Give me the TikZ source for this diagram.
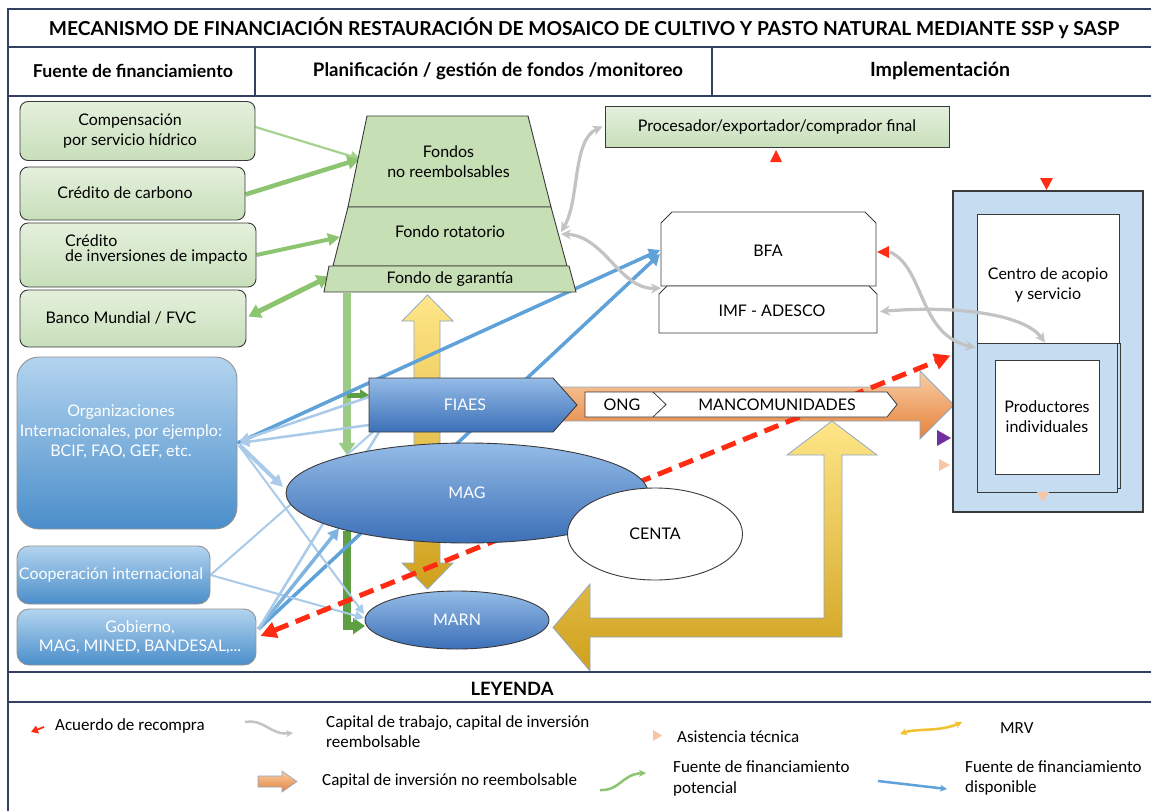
\documentclass[tikz,border=0pt]{standalone}
\usepackage{graphicx}
\usepackage{fontspec}
\setmainfont{Lato}
\newfontfamily\legfont{Carlito}
\usetikzlibrary{shapes.geometric,arrows.meta,calc}
\definecolor{frameC}{HTML}{34405F}
\definecolor{boxD}{HTML}{3A3A3A}
\definecolor{gTop}{HTML}{E4F0DC}
\definecolor{gBot}{HTML}{C8DFBA}
\definecolor{trapC}{HTML}{C6DFB5}
\definecolor{bTop}{HTML}{B3D4EF}
\definecolor{bBot}{HTML}{4A8ECA}
\definecolor{fTop}{HTML}{95BCE7}
\definecolor{fBot}{HTML}{3B6FB7}
\definecolor{oTop}{HTML}{F8CDA5}
\definecolor{oBot}{HTML}{E5823A}
\definecolor{yTop}{HTML}{FFE688}
\definecolor{yBot}{HTML}{CFA01C}
\definecolor{rBox}{HTML}{C6DCF0}
\definecolor{redC}{HTML}{FF2B12}
\definecolor{grayC}{HTML}{C3C3C3}
\definecolor{gLight}{HTML}{A6D28F}
\definecolor{gMid}{HTML}{8CC46F}
\definecolor{gDark}{HTML}{5F9F43}
\definecolor{bLight}{HTML}{A9CBE9}
\definecolor{bMid}{HTML}{5FA1D9}
\definecolor{purpC}{HTML}{7030A0}
\definecolor{peachC}{HTML}{F8C6A4}
\definecolor{edgeC}{HTML}{8FA8C6}
\definecolor{mrvC}{HTML}{F2C12E}
\newcommand\fitw[2]{\resizebox{#1}{!}{#2}}
\pgfdeclarelayer{back}
\pgfdeclarelayer{lines}
\pgfdeclarelayer{front}
\pgfsetlayers{back,lines,main,front}
\begin{document}
\begin{tikzpicture}[x=1pt,y=-1pt,
  frm/.style={draw=frameC, line width=1.6pt},
  hdr/.style={font=\bfseries\fontsize{16}{18}\selectfont, inner sep=0pt},
  txt/.style={font=\fontsize{16}{20}\selectfont, align=center, inner sep=0pt},
  wtxt/.style={txt, text=white},
  leg/.style={font=\legfont\fontsize{17}{20}\selectfont, align=left, inner sep=0pt, anchor=west},
  gbox/.style={draw=boxD, line width=0.9pt, rounded corners=8pt, top color=gTop, bottom color=gBot, inner sep=0pt},
  bbox/.style={draw=boxD!55, line width=0.9pt, rounded corners=12pt, top color=bTop, bottom color=bBot, inner sep=0pt},
  plain/.style={draw=boxD, line width=0.9pt},
  shell/.style={inner sep=0pt, outer sep=0pt},
  gry/.style={grayC, line width=3.2pt, {Stealth[length=10pt,width=10pt]}-{Stealth[length=10pt,width=10pt]}},
  ybox/.style={draw=edgeC, line width=0.8pt, top color=yTop, bottom color=yBot},
]
\begin{pgfonlayer}{back}
\fill[white] (0,0) rectangle (1151,811);
\end{pgfonlayer}
\useasboundingbox (0,0) rectangle (1151,811);

% ---------- frame ----------
\draw[frm] (8,811) -- (8,9) -- (1151,9);
\draw[frm] (8,47) -- (1151,47);
\draw[frm] (8,96) -- (1151,96);
\draw[frm] (255,47) -- (255,96);
\draw[frm] (712,47) -- (712,96);
\draw[frm] (8,672) -- (1151,672);
\draw[frm] (8,702) -- (1151,702);
\node[hdr] (title) at (584,28) {\fitw{1070pt}{MECANISMO DE FINANCIACIÓN RESTAURACIÓN DE MOSAICO DE CULTIVO Y PASTO NATURAL MEDIANTE SSP y SASP}};
\node[hdr] (colA) at (133,71) {\fitw{200pt}{Fuente de financiamiento}};
\node[hdr] (colB) at (498,71) {\fitw{370pt}{Planificación / gestión de fondos /monitoreo}};
\node[hdr] (colC) at (940,71) {\fitw{140pt}{Implementación}};
\node[hdr] (leyenda) at (512,689) {\fitw{83pt}{LEYENDA}};

% ---------- sources ----------
\node[gbox, minimum width=235pt, minimum height=59pt] (comp) at (137.5,131) {};
\node[txt] (compT) at (130,131) {Compensación\\por servicio hídrico};
\node[gbox, minimum width=225pt, minimum height=53pt] (carb) at (132.5,193.5) {};
\node[txt] (carbT) at (125,193) {Crédito de carbono};
\node[gbox, minimum width=236pt, minimum height=64pt] (inv) at (138,255) {};
\node[txt, align=left, anchor=west, font=\fontsize{16}{15}\selectfont] (invT) at (65,249) {Crédito\\de inversiones de impacto};
\node[gbox, minimum width=226pt, minimum height=57pt] (banco) at (133,318.5) {};
\node[txt] (bancoT) at (121,318) {Banco Mundial / FVC};

\node[bbox, minimum width=220pt, minimum height=172pt, rounded corners=22pt] (org) at (127,443) {};
\node[wtxt] (orgT) at (121,432) {Organizaciones\\Internacionales, por ejemplo:\\BCIF, FAO, GEF, etc.};
\node[bbox, minimum width=193pt, minimum height=58pt] (coop) at (113.5,575) {};
\node[wtxt] (coopT) at (111,575) {Cooperación internacional};
\node[bbox, minimum width=239pt, minimum height=56pt] (gob) at (136.5,637) {};
\node[wtxt, font=\fontsize{16}{19}\selectfont] (gobT) at (140,637) {Gobierno,\\MAG, MINED, BANDESAL,...};

% ---------- funds trapezoid ----------
\draw[plain, fill=trapC] (367,116) -- (528,116) -- (551,207) -- (348,207) -- cycle;
\draw[plain, fill=trapC] (348,207) -- (551,207) -- (567,266) -- (333,266) -- cycle;
\draw[plain, fill=trapC] (329,266) -- (569,266) -- (576,292) -- (324,292) -- cycle;
\node[shell, txt, minimum width=182pt, minimum height=91pt] (fondos) at (448.5,162) {Fondos\\no reembolsables};
\node[shell, txt, minimum width=218pt, minimum height=50pt] (rot) at (450,232) {Fondo rotatorio};
\node[shell, txt, minimum width=246pt, minimum height=26pt] (gar) at (450,279.5) {Fondo de garantía};

% ---------- processor, BFA, IMF ----------
\node[draw=boxD, line width=0.9pt, top color=gTop, bottom color=gBot, minimum width=344pt, minimum height=41pt, txt] (proc) at (777,126.5) {Procesador/exportador/comprador final};
\node[shell, minimum width=215pt, minimum height=74pt] (bfa) at (768.5,249) {};
\draw[plain, fill=white] (bfa.south west) -- ($(bfa.north west)+(0,11)$) -- ($(bfa.north west)+(11,0)$) -- ($(bfa.north east)+(-11,0)$) -- ($(bfa.north east)+(0,11)$) -- (bfa.south east) -- cycle;
\node[txt] (bfaT) at (768,251) {BFA};
\node[shell, minimum width=218pt, minimum height=47pt] (imf) at (768,309.5) {};
\draw[plain, fill=white] (imf.south west) -- ($(imf.north west)+(0,8)$) -- ($(imf.north west)+(8,0)$) -- ($(imf.north east)+(-8,0)$) -- ($(imf.north east)+(0,8)$) -- (imf.south east) -- cycle;
\node[txt] (imfT) at (772,311) {IMF - ADESCO};

% ---------- implementation block ----------
\node[draw=boxD, line width=1.1pt, fill=rBox, minimum width=190pt, minimum height=321pt, inner sep=0pt] (outer) at (1048,351.5) {};
\node[plain, fill=white, minimum width=142pt, minimum height=130pt, inner sep=0pt] (centro) at (1048,279) {};
\node[txt] (centroT) at (1048,285) {Centro de acopio\\y servicio};
\node[plain, fill=rBox, minimum width=140pt, minimum height=145pt, inner sep=0pt] (prodb) at (1050,415.5) {};
\node[plain, fill=rBox, minimum width=140pt, minimum height=149pt, inner sep=0pt] (prodf) at (1047,417.5) {};
\node[plain, fill=white, txt, minimum width=104pt, minimum height=114pt] (prod) at (1047,417) {Productores\\individuales};

% ---------- FIAES, chevrons, ellipses ----------
\draw[plain, top color=fTop, bottom color=fBot] (369,378) -- (553,378) -- (577,405) -- (553,432) -- (369,432) -- cycle;
\node[shell, wtxt, minimum width=192pt, minimum height=54pt] (fiaes) at (465,405) {FIAES};
\draw[plain, fill=white, line width=0.8pt] (585,392) -- (887,392) -- (897,404.5) -- (887,417) -- (585,417) -- cycle;
\draw[plain, line width=0.8pt] (653,392) -- (666,404.5) -- (653,417);
\node[txt] (ong) at (622,404.5) {ONG};
\node[txt] (manc) at (777,404.5) {MANCOMUNIDADES};
\node[ellipse, plain, top color=fTop, bottom color=fBot, minimum width=362pt, minimum height=100pt, outer sep=0pt, wtxt] (mag) at (467,493) {MAG};
\node[ellipse, plain, fill=white, minimum width=175pt, minimum height=92pt, outer sep=0pt, txt] (centa) at (655,534) {CENTA};
\node[ellipse, plain, top color=fTop, bottom color=fBot, minimum width=184pt, minimum height=58pt, outer sep=0pt, wtxt] (marn) at (457,620) {MARN};

% ---------- block arrows (behind) ----------
\begin{pgfonlayer}{back}
\draw[ybox] (427.5,295) -- (453,321) -- (440,321) -- (440,563) -- (453,563) -- (427.5,589) -- (402,563) -- (414,563) -- (414,321) -- (402,321) -- cycle;
\draw[ybox] (832,421) -- (877,455) -- (842,455) -- (842,637) -- (590,637) -- (590,671) -- (553,627.5) -- (590,584) -- (590,618) -- (824,618) -- (824,455) -- (787,455) -- cycle;
\draw[draw=edgeC, line width=0.8pt, top color=oTop, bottom color=oBot] (560,387) -- (920,387) -- (920,371) -- (954,405) -- (920,439) -- (920,421) -- (560,421) -- cycle;
\end{pgfonlayer}

% ---------- connectors ----------
\begin{pgfonlayer}{lines}
\coordinate (gx) at (347,0);
\coordinate (fiaesB) at ($(fiaes.west)+(0,-10)$);
% potential sources (green)
\draw[gLight, line width=2.2pt, -{Triangle[length=10pt,width=10pt]}] ($(comp.east)+(0,-4)$) -- ($(fondos.west)+(3,-3)$);
\draw[gMid, line width=4.5pt, -{Triangle[length=12pt,width=13pt]}] ($(carb.east)+(0,1)$) -- ($(fondos.west)+(2,-3)$);
\draw[gMid, line width=4pt, -{Triangle[length=12pt,width=12pt]}] (inv.east) -- ($(rot.west)+(-1,5)$);
\draw[gMid, line width=5pt, {Triangle[length=12pt,width=14pt]}-{Triangle[length=12pt,width=14pt]}] ($(banco.east)+(2,-2)$) -- ($(gar.west)+(2,-3)$);
\draw[gLight!85!gDark, line width=8pt, -{Triangle[length=12pt,width=16pt]}] (gx |- gar.south) -- (gx |- mag.162);
\draw[gDark, line width=5pt, -{Triangle[length=9pt,width=11pt]}] (gx |- fiaesB) -- (fiaesB);
\draw[gDark, line width=8pt, -{Triangle[length=12pt,width=16pt]}] (gx |- mag.198) -- ($(gx |- marn.west)+(0,6)$) -- ($(marn.west)+(0,6)$);
% available sources (blue)
\draw[bMid, line width=3.5pt, -{Triangle[length=11pt,width=12pt]}] (org.east) -- ($(bfa.west)+(-1,1)$);
\draw[bMid, line width=3.5pt, -{Triangle[length=11pt,width=12pt]}] ($(gob.east)+(2,-8)$) -- ($(bfa.west)+(-1,5)$);
\draw[bLight, line width=2.5pt, -{Triangle[length=10pt,width=10pt]}] ($(fiaes.west)+(0,-8)$) -- ($(org.east)+(2,-2)$);
\draw[bLight, line width=2.5pt, -{Triangle[length=10pt,width=10pt]}] ($(fiaes.west)+(0,20)$) -- ($(org.east)+(2,0)$);
\draw[bLight, line width=4pt, -{Triangle[length=12pt,width=12pt]}] ($(org.east)+(2,2)$) -- ($(mag.west)+(-3,-6)$);
\draw[bLight, line width=2pt, -{Triangle[length=9pt,width=9pt]}] ($(org.east)+(2,3)$) -- ($(marn.west)+(-1,-6)$);
\draw[bLight, line width=2pt, -{Triangle[length=9pt,width=9pt]}] (coop.east) -- ($(marn.west)+(-1,-2)$);
\draw[bLight, line width=2pt] (coop.east) -- ($(fiaes.south west)+(4,0)$);
\draw[bMid!80, line width=3.5pt, -{Triangle[length=11pt,width=12pt]}] ($(gob.east)+(2,-8)$) -- (mag.south west);
\draw[bLight, line width=2.5pt] ($(gob.east)+(2,-8)$) -- ($(fiaes.south west)+(10,0)$);
% buy-back agreement (red dashed)
\draw[redC, line width=5pt, dash pattern=on 15pt off 8pt, {Triangle[length=16pt,width=16pt]}-{Triangle[length=16pt,width=16pt]}] ($(gob.east)+(4,-1)$) -- ($(outer.west)+(-2,4)$);
\end{pgfonlayer}

\begin{pgfonlayer}{front}
% working capital (gray)
\draw[gry] ($(rot.east)+(2,0)$) .. controls (580,200) and (572,140) .. ($(proc.west)+(-2,0)$);
\draw[gry] ($(rot.east)+(2,2)$) .. controls (605,236) and (620,290) .. ($(imf.north west)+(2,2)$);
\draw[grayC, line width=3.2pt, -{Stealth[length=10pt,width=10pt]}] ($(bfa.east)+(14,3)$) .. controls (925,268) and (918,335) .. ($(prodf.north west)+(-1,5)$);
\draw[gry] ($(imf.east)+(3,2)$) .. controls (960,305) and (1025,315) .. ($(prodf.north)+(-2,0)$);
% small markers
\fill[redC] (770,162) -- (782,162) -- (776,150) -- cycle;
\fill[redC] (1040,178) -- (1053,178) -- (1046.5,190) -- cycle;
\fill[redC] (877,252) -- (889,246) -- (889,258) -- cycle;
\fill[purpC] (937,430) -- (951,438) -- (937,446) -- cycle;
\fill[peachC] (939,459) -- (950,465) -- (939,471) -- cycle;
\fill[peachC] (1037,492) -- (1049,492) -- (1043,502) -- cycle;
\end{pgfonlayer}

% ---------- legend ----------
\node[leg] (l1) at (55,726) {Acuerdo de recompra};
\node[leg] (l2) at (326,732) {Capital de trabajo, capital de inversión\\reembolsable};
\node[leg] (l3) at (322,781) {Capital de inversión no reembolsable};
\node[leg] (l4) at (677,737) {Asistencia técnica};
\node[leg, font=\legfont\fontsize{17}{21}\selectfont] (l5) at (673,778.5) {Fuente de financiamiento\\potencial};
\node[leg] (l6) at (1000,728) {MRV};
\node[leg] (l7) at (965,778) {Fuente de financiamiento\\disponible};
\coordinate (k1a) at (44,727);
\coordinate (k1b) at (31,732);
\draw[redC, line width=1.8pt, -{Triangle[length=7pt,width=8pt]}] (k1a) -- (k1b);
\coordinate (k2a) at (245,722);
\coordinate (k2b) at (293,733);
\draw[grayC, line width=2.5pt, -{Stealth[length=7pt,width=7pt]}] (k2a) .. controls (265,719) and (270,735) .. (k2b);
\draw[draw=edgeC, line width=0.6pt, top color=oTop, bottom color=oBot] (258,776) -- (282,776) -- (282,771) -- (297,781.5) -- (282,792) -- (282,787) -- (258,787) -- cycle;
\fill[peachC] (653,730) -- (662,735.5) -- (653,741) -- cycle;
\coordinate (k4a) at (900,734);
\coordinate (k4b) at (962,722);
\draw[mrvC, line width=2.5pt, {Stealth[length=7pt,width=7pt]}-{Stealth[length=7pt,width=7pt]}] (k4a) .. controls (917,728) and (940,732) .. (k4b);
\coordinate (k5a) at (600,790);
\coordinate (k5b) at (646,773);
\draw[gMid, line width=2.5pt, -{Stealth[length=7pt,width=7pt]}] (k5a) .. controls (620,791) and (622,774) .. (k5b);
\coordinate (k6a) at (878,781);
\coordinate (k6b) at (947,789);
\draw[bMid, line width=2.5pt, -{Stealth[length=7pt,width=7pt]}] (k6a) -- (k6b);
\end{tikzpicture}
\end{document}
